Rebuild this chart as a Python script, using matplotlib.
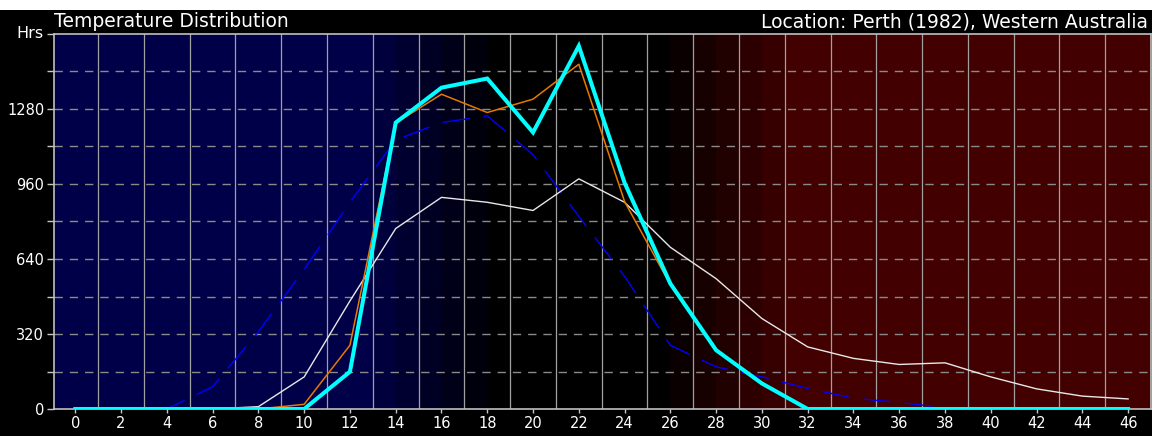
#!/usr/bin/env python3
"""Temperature distribution (hours per temperature bin) for Perth, 1982."""

import matplotlib.pyplot as plt
import numpy as np
from matplotlib.patches import Rectangle

# temperature bins (deg C) and hours in each bin
temps = list(range(0, 47, 2))
hours_cyan = [0, 0, 0, 0, 0, 0, 159, 1222, 1371, 1410, 1180, 1549,
              965, 535, 251, 109, 0, 0, 0, 0, 0, 0, 0, 0]
hours_orange = [0, 0, 0, 0, 0, 20, 272, 1220, 1343, 1265, 1322, 1471,
                885, 530, 250, 105, 0, 0, 0, 0, 0, 0, 0, 0]
hours_white = [0, 0, 0, 0, 10, 137, 461, 770, 903, 882, 847, 982,
               882, 690, 556, 386, 265, 216, 190, 197, 137, 86, 55, 43]
hours_blue = [0, 0, 0, 95, 330, 595, 882, 1148, 1222, 1251, 1085, 822,
              566, 272, 180, 137, 88, 46, 28, 5, 0, 0, 0, 0]

y_ticks = list(range(0, 1601, 160))
y_labels = ["0", "", "320", "", "640", "", "960", "", "1280", "", ""]

title_left = "Temperature Distribution"
title_right = "Location: Perth (1982), Western Australia"

W, H = 1152, 436


def background_bands():
    """Blue (cold) -> black -> red (hot), one band per degree from -1 to 47."""
    edges = np.arange(-1, 47)
    blue = np.array([0, 0, 72]) / 255
    red = np.array([66, 0, 0]) / 255
    cols = []
    for k in edges:
        wb = np.clip((18 - k) / 6, 0, 1)
        wr = np.clip((k - 25) / 6, 0, 1)
        cols.append(blue * wb + red * wr)
    return np.array(cols)[None, :, :]


def main():
    fig = plt.figure(figsize=(W / 100, H / 100), dpi=100, facecolor="black")
    fig.patches.append(Rectangle((0, 1 - 10 / H), 1, 10 / H,
                                 transform=fig.transFigure,
                                 facecolor="white", edgecolor="none"))

    ax = fig.add_axes([54 / W, (H - 409) / H, (1151 - 54) / W, (409 - 34) / H])
    ax.set_facecolor("black")

    ax.imshow(background_bands(), extent=[-1, 47, 0, 1600], aspect="auto",
              interpolation="nearest", zorder=0)

    for x in range(-1, 48, 2):
        ax.axvline(x, color="#a0a0a0", lw=0.9, zorder=1)
    for y in y_ticks[1:-1]:
        ax.axhline(y, color="#8a8a8a", lw=1.0, ls=(0, (6, 5)), zorder=1)

    ax.plot(temps, hours_blue, color="#0000ff", lw=1.0, ls=(0, (20, 10)),
            zorder=2)
    ax.plot(temps, hours_white, color="#e8e8e8", lw=1.0, zorder=3)
    ax.plot(temps, hours_orange, color="#e87800", lw=1.1, zorder=4)
    ax.plot(temps, hours_cyan, color="#00ffff", lw=2.9, zorder=5,
            solid_joinstyle="miter")

    ax.set_xlim(-0.93, 47.0)
    ax.set_ylim(0, 1600)

    ax.set_xticks(temps)
    ax.set_xticklabels([str(t) for t in temps])
    ax.set_yticks(y_ticks)
    ax.set_yticklabels(y_labels)
    ax.tick_params(axis="both", colors="#c8c8c8", labelcolor="white",
                   labelsize=10.5, width=1.0)
    ax.tick_params(axis="x", length=3, pad=2)
    ax.tick_params(axis="y", length=5, pad=2)

    for side in ("left", "bottom", "top", "right"):
        ax.spines[side].set_color("#c0c0c0")
        ax.spines[side].set_linewidth(1.2)

    fig.text(54 / W, 1 - 27 / H, title_left, color="white", fontsize=13.5,
             ha="left", va="baseline")
    fig.text(1148 / W, 1 - 27 / H, title_right, color="white",
             fontsize=13.5, ha="right", va="baseline")
    fig.text(43 / W, 1 - 33 / H, "Hrs", color="white", fontsize=11.5,
             ha="right", va="center")

    fig.savefig("out.png", dpi=100, facecolor=fig.get_facecolor())
    plt.close(fig)


if __name__ == "__main__":
    main()
